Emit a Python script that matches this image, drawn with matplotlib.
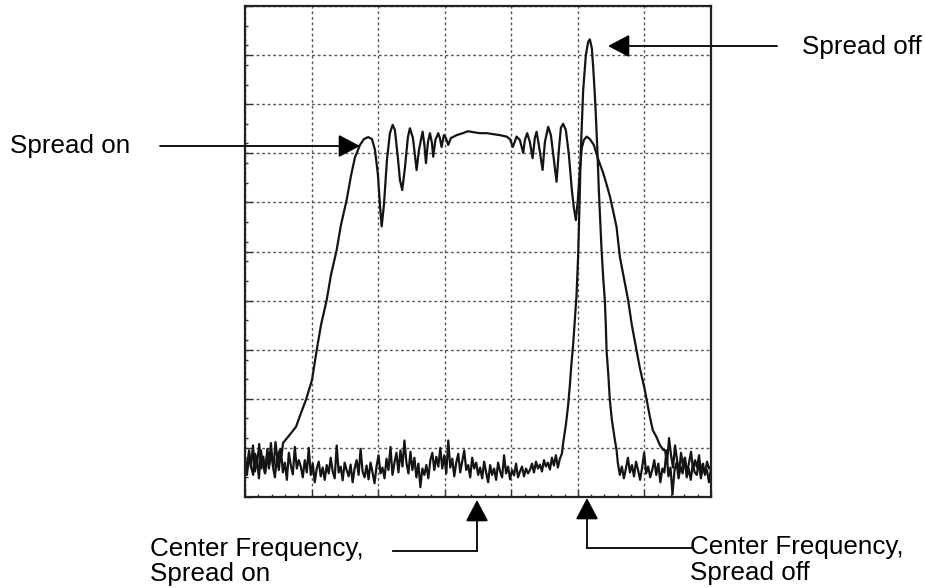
import numpy as np
import matplotlib
matplotlib.use("Agg")
import matplotlib.pyplot as plt
from matplotlib.lines import Line2D
from matplotlib.ticker import MultipleLocator

plt.rcParams['font.family'] = ['Liberation Sans', 'DejaVu Sans']

# screen units: x in divisions (0-7), y in divisions (0-10)

# Spread on - main hump
on_curve_x = [0.571, 0.691, 0.766, 0.841, 0.916, 1.006, 1.077, 1.141, 1.227, 1.291,
              1.377, 1.441, 1.527, 1.592, 1.652, 1.727, 1.787, 1.851, 1.907, 1.952,
              1.997, 2.027, 2.053, 2.087, 2.132, 2.177, 2.218, 2.252, 2.297, 2.327,
              2.362, 2.402, 2.447, 2.477, 2.523, 2.578, 2.613, 2.668, 2.695, 2.718,
              2.748, 2.778, 2.808, 2.827, 2.860, 2.902, 2.928, 2.953, 2.988, 3.018,
              3.053, 3.093, 3.179, 3.273, 3.348, 3.428, 3.529, 3.629, 3.724, 3.829,
              3.929, 3.979, 4.024, 4.080, 4.129, 4.179, 4.204, 4.239, 4.279, 4.320,
              4.354, 4.380, 4.414, 4.470, 4.505, 4.554, 4.595, 4.640, 4.680, 4.715,
              4.745, 4.779, 4.820, 4.865, 4.910, 4.940, 4.970, 5.000, 5.030, 5.060,
              5.090, 5.131, 5.180, 5.240, 5.300, 5.380, 5.435, 5.480, 5.526, 5.581,
              5.631, 5.691, 5.755, 5.811, 5.881, 5.931, 6.006, 6.081, 6.126, 6.182,
              6.231, 6.281]
on_curve_y = [1.10, 1.30, 1.43, 1.71, 1.98, 2.38, 2.99, 3.50, 4.01, 4.52,
              5.03, 5.54, 6.05, 6.54, 6.92, 7.17, 7.29, 7.33, 7.29, 7.07,
              6.56, 5.95, 5.51, 5.95, 6.86, 7.41, 7.58, 7.47, 6.90, 6.46,
              6.25, 6.70, 7.33, 7.51, 7.31, 6.66, 7.07, 7.44, 7.17, 6.80,
              7.23, 7.41, 7.21, 6.93, 7.27, 7.41, 7.31, 7.13, 7.37, 7.31,
              7.17, 7.31, 7.37, 7.41, 7.45, 7.43, 7.41, 7.41, 7.39, 7.37,
              7.34, 7.29, 7.13, 7.34, 7.27, 7.01, 7.27, 7.41, 7.23, 6.90,
              7.31, 7.44, 7.17, 6.66, 7.23, 7.54, 7.37, 6.86, 6.42, 7.07,
              7.52, 7.60, 7.47, 6.97, 6.25, 5.89, 5.64, 6.05, 6.66, 7.11,
              7.27, 7.34, 7.29, 7.17, 6.90, 6.60, 6.35, 6.13, 5.85, 5.50,
              4.89, 4.46, 4.01, 3.50, 2.99, 2.63, 2.18, 1.64, 1.36, 1.22,
              1.06, 0.96]

# Spread on - noise floor either side of the hump
on_noise_left = [0.80, 0.55, 0.95, 0.62, 0.45, 0.88, 0.70, 1.08, 0.58, 0.82,
                 0.50, 0.98, 0.66, 0.90, 0.60, 1.12, 0.75, 0.95, 0.85]
on_noise_right = [0.95, 0.70, 1.20, 0.85, 0.60, 1.05, 0.75, 0.50, 0.90, 0.62,
                  0.80, 0.48, 0.70, 0.92, 0.55, 0.75, 0.60, 0.85, 0.52, 0.68,
                  0.45, 0.72, 0.58, 0.62]

# Spread off - narrow carrier peak
off_curve_x = [4.779, 4.820, 4.854, 4.880, 4.902, 4.929, 4.955, 4.980, 5.005, 5.015,
               5.030, 5.045, 5.080, 5.120, 5.155, 5.180, 5.210, 5.230, 5.255, 5.270,
               5.293, 5.315, 5.338, 5.356, 5.383, 5.405, 5.420, 5.431, 5.458, 5.480,
               5.511, 5.556, 5.581]
off_curve_y = [1.10, 1.47, 1.87, 2.28, 2.69, 3.10, 3.60, 4.11, 4.93, 5.44,
               6.25, 7.07, 8.29, 9.00, 9.27, 9.32, 9.14, 8.76, 8.19, 7.78,
               7.07, 6.25, 5.54, 5.03, 4.42, 4.01, 3.50, 2.99, 2.48, 1.98,
               1.57, 1.16, 0.96]

off_noise_left = [0.72, 0.45, 0.88, 0.60, 1.05, 0.52, 0.78, 0.38, 0.95, 0.66,
                  0.48, 0.85, 0.58, 1.10, 0.62, 0.40, 0.80, 0.55, 0.98, 0.50,
                  0.70, 0.35, 0.90, 0.64, 0.46, 1.02, 0.58, 0.75,
                  0.62, 0.40, 0.75, 0.50, 1.00, 0.45, 0.68, 0.30, 0.58, 0.72,
                  0.42, 0.60, 0.35, 0.65, 0.48, 0.80, 0.52, 0.38, 1.05, 0.50,
                  0.62, 0.34, 0.70, 0.55, 0.42, 0.66, 0.30, 0.58, 0.75, 0.45,
                  0.98, 0.52, 0.40, 0.64, 0.36, 0.70, 0.50, 0.28, 0.62, 0.85,
                  0.48, 0.60, 0.38, 0.78, 0.55, 1.02, 0.45, 0.70, 0.90, 0.50,
                  0.95, 0.62, 1.15, 0.70, 0.48, 0.92, 0.55, 0.80, 0.40, 0.68,
                  0.20, 0.58, 0.45, 0.65, 0.38,
                  0.75, 0.90, 0.55, 0.82, 0.62, 1.00, 0.58, 0.85, 0.48, 1.15,
                  0.60, 0.78, 0.42, 0.70, 0.88, 0.50, 0.72, 0.95, 0.55, 0.65,
                  0.40, 0.80, 0.58, 0.70, 0.45,
                  0.60, 0.38, 0.72, 0.50, 0.30, 0.65, 0.45, 0.58, 0.35, 0.70,
                  0.52, 0.40, 0.85, 0.48, 0.62, 0.36, 0.55, 0.44, 0.68, 0.40,
                  0.52, 0.62, 0.42, 0.58, 0.48,
                  0.55, 0.68, 0.50, 0.72, 0.58, 0.66, 0.52, 0.75, 0.62, 0.70,
                  0.56, 0.80, 0.64, 0.85, 0.60, 0.78, 0.88]
off_noise_right = [0.70, 0.45, 0.62, 0.38, 0.58, 0.80, 0.50, 0.65, 0.42, 0.72,
                   0.55, 0.35, 0.60, 0.90, 0.48, 0.62, 0.40, 0.55, 0.75, 0.45,
                   0.68, 0.30, 0.58, 0.50, 0.95, 0.42, 0.60, 0.05, 0.55, 0.70,
                   0.38, 0.62, 0.48, 0.80, 0.40, 0.58, 0.35, 0.65, 0.50, 0.45,
                   0.72, 0.38, 0.60, 0.48, 0.55, 0.30, 0.58]

on_x = np.concatenate([np.linspace(0, 0.55, len(on_noise_left)), on_curve_x,
                       np.linspace(6.31, 7.0, len(on_noise_right))])
on_y = np.concatenate([on_noise_left, on_curve_y, on_noise_right])
off_x = np.concatenate([np.linspace(0, 4.76, len(off_noise_left)), off_curve_x,
                        np.linspace(5.60, 7.0, len(off_noise_right))])
off_y = np.concatenate([off_noise_left, off_curve_y, off_noise_right])

W, H = 925, 588
fig = plt.figure(figsize=(W / 100, H / 100), dpi=100)
ax = fig.add_axes([245 / W, (H - 497) / H, 466 / W, 491 / H])

ax.plot(off_x, off_y, color='#141414', lw=1.6)
ax.plot(on_x, on_y, color='#141414', lw=1.6)

ax.set_xlim(0, 7)
ax.set_ylim(0, 10)
ax.xaxis.set_major_locator(MultipleLocator(1))
ax.yaxis.set_major_locator(MultipleLocator(1))
ax.xaxis.set_minor_locator(MultipleLocator(0.2))
ax.yaxis.set_minor_locator(MultipleLocator(0.4))
ax.tick_params(which='both', direction='in', labelbottom=False, labelleft=False,
               color='#333333', width=1)
ax.tick_params(which='major', length=5)
ax.tick_params(which='minor', length=2.5)
ax.grid(True, which='major', color='#555555', lw=1.0, ls=(0, (2, 2)))
for s in ax.spines.values():
    s.set_linewidth(1.6)
    s.set_color('#222222')


def fp(x, y):
    # top-left pixel position -> figure pixels
    return (x, H - y)


arrow = dict(arrowstyle='-|>,head_length=0.95,head_width=0.5', mutation_scale=14,
             color='black', lw=1.3, shrinkA=0, shrinkB=0)
fs = 18.7

ax.annotate('', xy=fp(360, 146), xytext=fp(160, 146), xycoords='figure pixels',
            textcoords='figure pixels', arrowprops=arrow)
fig.text(10 / W, 1 - 146 / H, 'Spread on', fontsize=fs, ha='left', va='center')

ax.annotate('', xy=fp(608, 46), xytext=fp(777, 46), xycoords='figure pixels',
            textcoords='figure pixels', arrowprops=arrow)
fig.text(802 / W, 1 - 47 / H, 'Spread off', fontsize=fs, ha='left', va='center')

# center frequency markers below the screen
ax.annotate('', xy=fp(477, 500), xytext=fp(477, 551), xycoords='figure pixels',
            textcoords='figure pixels', arrowprops=arrow)
fig.add_artist(Line2D([393 / W, 477 / W], [1 - 551 / H, 1 - 551 / H],
                      color='black', lw=1.3))
fig.text(150 / W, 1 - 556 / H, 'Center Frequency,', fontsize=fs, ha='left', va='baseline')
fig.text(150 / W, 1 - 581 / H, 'Spread on', fontsize=fs, ha='left', va='baseline')

ax.annotate('', xy=fp(587, 498), xytext=fp(587, 548), xycoords='figure pixels',
            textcoords='figure pixels', arrowprops=arrow)
fig.add_artist(Line2D([587 / W, 692 / W], [1 - 548 / H, 1 - 548 / H],
                      color='black', lw=1.3))
fig.text(690 / W, 1 - 554 / H, 'Center Frequency,', fontsize=fs, ha='left', va='baseline')
fig.text(690 / W, 1 - 580 / H, 'Spread off', fontsize=fs, ha='left', va='baseline')

fig.savefig('out.png', dpi=100)
